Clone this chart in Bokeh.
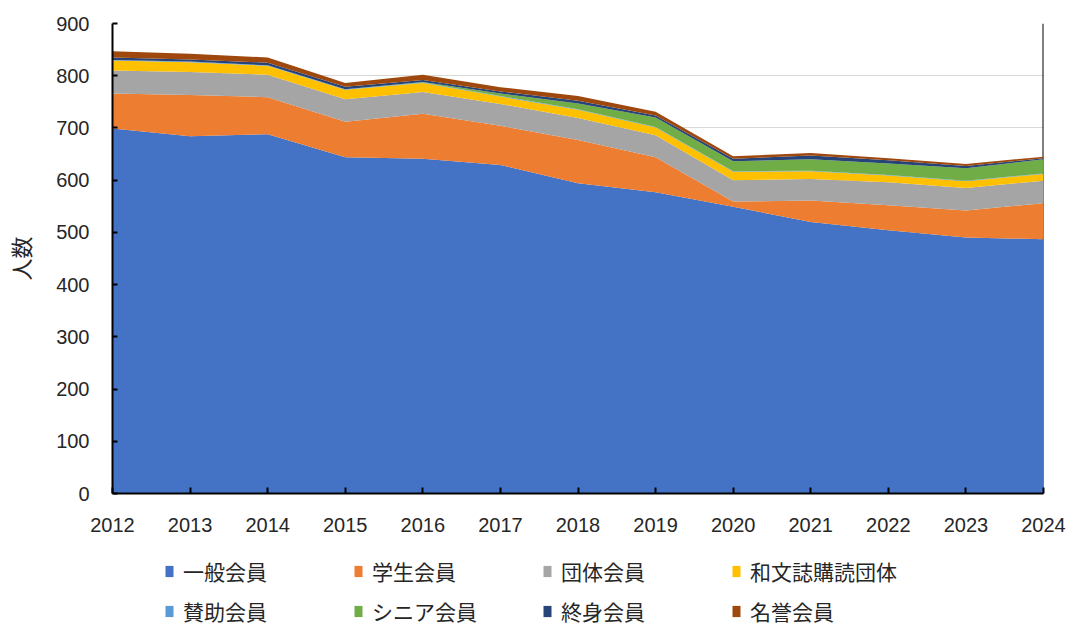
from bokeh.plotting import figure
from bokeh.layouts import column
from bokeh.models import Range1d, FixedTicker, Legend, LegendItem, Span, ColumnDataSource
from bokeh.embed import file_html
from bokeh.resources import INLINE

years = [2012, 2013, 2014, 2015, 2016, 2017, 2018, 2019, 2020, 2021, 2022, 2023, 2024]
general = [699, 684, 688, 644, 641, 629, 594, 577, 549, 520, 504, 490, 487]
student = [67, 79, 71, 68, 86, 75, 83, 67, 10, 41, 48, 52, 69]
group = [44, 44, 43, 43, 42, 42, 42, 42, 41, 41, 44, 43, 43]
wabun = [19, 19, 17, 18, 17, 14, 16, 15, 16, 15, 13, 13, 13]
support = [1, 1, 1, 1, 1, 1, 1, 1, 1, 1, 1, 1, 1]
senior = [0, 0, 0, 0, 1, 5, 11, 18, 19, 22, 22, 24, 27]
lifetime = [5, 4, 5, 5, 4, 4, 5, 4, 5, 7, 6, 4, 2]
honorary = [12, 11, 10, 7, 10, 8, 9, 7, 5, 5, 4, 4, 3]

keys = ["general", "student", "group", "wabun", "support", "senior", "lifetime", "honorary"]
labels = ["一般会員", "学生会員", "団体会員", "和文誌購読団体", "賛助会員", "シニア会員", "終身会員", "名誉会員"]
colors = ["#4472C4", "#ED7D31", "#A5A5A5", "#FFC000", "#5B9BD5", "#70AD47", "#264478", "#9E480E"]
y_ticks = [0, 100, 200, 300, 400, 500, 600, 700, 800, 900]

source = ColumnDataSource(dict(year=years, general=general, student=student, group=group,
                               wabun=wabun, support=support, senior=senior,
                               lifetime=lifetime, honorary=honorary))

NUM_FONT = "Liberation Sans"
JP_FONT = "Noto Sans CJK JP"
TXT = "#262626"
W = 1068

p = figure(width=W, height=548, output_backend="svg", toolbar_location=None,
           x_range=Range1d(2012, 2024), y_range=Range1d(0, 900),
           min_border_left=112, min_border_right=25, min_border_top=23, min_border_bottom=55)
p.outline_line_color = None
p.background_fill_color = "white"

right_line = Span(location=2024, dimension="height", line_color="black", line_width=2, level="underlay")
p.add_layout(right_line)

renderers = p.varea_stack(stackers=keys, x="year", color=colors, source=source)

# axes
p.xaxis.ticker = FixedTicker(ticks=years)
p.yaxis.ticker = FixedTicker(ticks=y_ticks)
for ax in (p.xaxis[0], p.yaxis[0]):
    ax.axis_line_color = "black"
    ax.axis_line_width = 2
    ax.major_tick_line_color = "black"
    ax.major_tick_line_width = 2
    ax.major_tick_out = 0
    ax.minor_tick_line_color = None
    ax.major_label_text_font = NUM_FONT
    ax.major_label_text_font_size = "20px"
    ax.major_label_text_color = TXT
p.xaxis.major_tick_in = 6
p.yaxis.major_tick_in = 5
p.xaxis.major_label_standoff = 24
p.yaxis.major_label_standoff = 23
p.yaxis.axis_label = "人数"
p.yaxis.axis_label_text_font = JP_FONT
p.yaxis.axis_label_text_font_size = "22px"
p.yaxis.axis_label_text_font_style = "normal"
p.yaxis.axis_label_text_color = TXT
p.yaxis.axis_label_standoff = 17

p.xgrid.grid_line_color = None
p.ygrid.ticker = FixedTicker(ticks=y_ticks)
p.ygrid.grid_line_color = "#D9D9D9"
p.ygrid.grid_line_width = 1

# legend strip: same series, view range kept away from the data so only the key shows
lg = figure(width=W, height=78, output_backend="svg", toolbar_location=None,
            x_range=Range1d(0, 1), y_range=Range1d(-2, -1),
            x_axis_location=None, y_axis_location=None,
            min_border_left=0, min_border_right=0, min_border_top=0, min_border_bottom=0)
lg.outline_line_color = None
lg.xgrid.visible = False
lg.ygrid.visible = False
key_renderers = lg.varea_stack(stackers=keys, x="year", color=colors, source=source)
items = [LegendItem(label=lab, renderers=[r]) for lab, r in zip(labels, key_renderers)]
legend = Legend(items=items, ncols=4, orientation="horizontal", location=(52, 0),
                glyph_width=10, glyph_height=14, label_standoff=9, label_width=160,
                label_height=26, spacing=10, padding=0, margin=0,
                border_line_alpha=0, background_fill_alpha=0,
                label_text_font=JP_FONT, label_text_font_size="21px", label_text_color=TXT)
lg.add_layout(legend, "center")

open("out.html", "w").write(file_html(column(p, lg, spacing=0), INLINE))
